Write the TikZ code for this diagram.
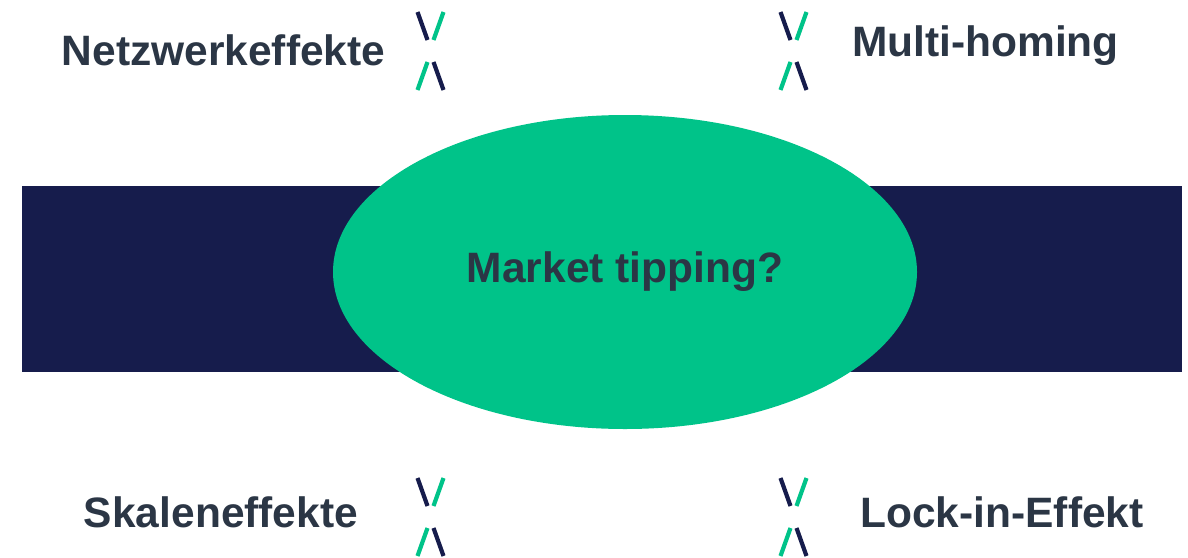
\documentclass[tikz,border=0pt]{standalone}
\usepackage{fontspec}
\setmainfont{Liberation Sans}
\usetikzlibrary{shapes.geometric}
\definecolor{navy}{HTML}{161C4C}
\definecolor{mint}{HTML}{00C389}
\definecolor{slate}{HTML}{2B3645}
\begin{document}
\begin{tikzpicture}[x=1pt,y=-1pt,
  label/.style={text=slate,font=\fontsize{42.5}{50}\selectfont\bfseries,inner sep=0pt,anchor=center},
  stroke/.style={line width=4.2pt},
  pics/xmark/.style={code={
    \draw[stroke,navy] (-13,-39) -- (-3,-11);
    \draw[stroke,mint] (13,-39) -- (3,-11);
    \draw[stroke,mint] (-3,11) -- (-13,39);
    \draw[stroke,navy] (3,11) -- (13,39);
  }}]
  \useasboundingbox (0,0) rectangle (1188,557);
  % dark band behind the ellipse
  \fill[navy] (22,186) rectangle (1182,372);
  \node[ellipse,fill=mint,minimum width=584pt,minimum height=314pt,inner sep=0pt] (core) at (625,272) {};
  \node[label] (q) at (625,272) {Market tipping?};
  % the four factors
  \node[label] (nw) at (223.5,50) {Netzwerkeffekte};
  \node[label] (mh) at (985.5,46) {Multi-homing};
  \node[label] (sk) at (221,512) {Skaleneffekte};
  \node[label] (li) at (1002,512) {Lock-in-Effekt};
  % x-shaped separators
  \pic at (430.5,51) {xmark};
  \pic at (793.5,51) {xmark};
  \pic at (430.5,517) {xmark};
  \pic at (793.5,517) {xmark};
\end{tikzpicture}
\end{document}
